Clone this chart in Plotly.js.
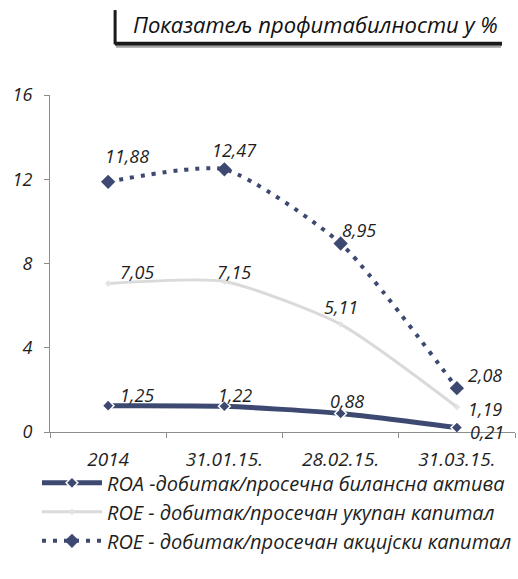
<!DOCTYPE html>
<html>
<head>
<meta charset="utf-8">
<script src="https://cdn.plot.ly/plotly-3.0.1.min.js"></script>
<style>html,body{margin:0;padding:0;background:#fff;}#chart{width:518px;height:579px;}</style>
</head>
<body>
<div id="chart"></div>
<script>
const categories = ["2014", "31.01.15.", "28.02.15.", "31.03.15."];
const roaValues = [1.25, 1.22, 0.88, 0.21];
const roeTotalValues = [7.05, 7.15, 5.11, 1.19];
const roeShareValues = [11.88, 12.47, 8.95, 2.08];
const roaName = "ROA -добитак/просечна билансна актива";
const roeTotalName = "ROE - добитак/просечан укупан капитал";
const roeShareName = "ROE - добитак/просечан акцијски капитал";
const titleText = "Показатељ профитабилности у %";
const yTicks = [0, 4, 8, 12, 16];

// label offsets in px (style, not data)
const roaShift = [[29, 11], [11, 11], [6, 12], [30, -4]];
const roeTotalShift = [[29, 12], [10, 9], [0, 17], [28, -2]];
const roeShareShift = [[19, 26], [10, 19], [18, 13], [28, 13]];

const fmt = v => v.toFixed(2).replace(".", ",");
const FONT = "Open Sans, Noto Sans, sans-serif";
const navy = "#3d4970";
const labelFont = {family: FONT, size: 18, color: "#1e1e1e", style: "italic"};

const traces = [
  {
    x: categories, y: roaValues, name: roaName, legendgroup: "a",
    mode: "lines+markers", type: "scatter",
    line: {color: navy, width: 5, shape: "spline", smoothing: 0.6},
    marker: {symbol: "diamond", size: 9, color: navy, line: {color: "#fff", width: 1.5}},
    cliponaxis: false
  },
  {
    x: categories, y: roeTotalValues, name: roeTotalName, legendgroup: "b",
    mode: "lines+markers", type: "scatter",
    line: {color: "#dadada", width: 3, shape: "spline", smoothing: 0.6},
    marker: {symbol: "diamond", size: 5, color: "#e2e2e2"},
    cliponaxis: false
  },
  {
    x: categories, y: roeShareValues, name: roeShareName, legendgroup: "c",
    mode: "lines+markers", type: "scatter",
    line: {color: navy, width: 4, dash: "4px,7px", shape: "spline", smoothing: 0.6},
    marker: {symbol: "diamond", size: 11, color: navy},
    cliponaxis: false
  }
];

const annotations = [];
function addLabels(values, shifts) {
  values.forEach((v, i) => {
    annotations.push({
      x: i, y: v, xref: "x", yref: "y", text: fmt(v), showarrow: false,
      xanchor: "center", yanchor: "middle", xshift: shifts[i][0], yshift: shifts[i][1],
      font: labelFont
    });
  });
}
addLabels(roaValues, roaShift);
addLabels(roeTotalValues, roeTotalShift);
addLabels(roeShareValues, roeShareShift);
annotations.push({
  text: titleText, xref: "paper", yref: "paper", x: 0.174, y: 1.212, xanchor: "left", yanchor: "middle",
  showarrow: false, font: {family: FONT, size: 22, color: "#111", style: "italic"}
});

const layout = {
  width: 518, height: 579,
  margin: {l: 50, r: 3, t: 95, b: 147},
  paper_bgcolor: "#fff", plot_bgcolor: "#fff",
  showlegend: true,
  font: {family: FONT, color: "#222"},
  xaxis: {
    type: "category", range: [-0.5, 3.5], fixedrange: true,
    showline: true, linecolor: "#8c8c8c", linewidth: 1,
    ticks: "outside", tickson: "boundaries", ticklen: 5, tickcolor: "#8c8c8c",
    ticklabelstandoff: 10,
    showgrid: false, zeroline: false,
    tickfont: {family: FONT, size: 19, color: "#1e1e1e", style: "italic"}
  },
  yaxis: {
    range: [0, 16], tickvals: yTicks, ticktext: yTicks.map(String),
    showline: true, linecolor: "#8c8c8c", linewidth: 1,
    ticks: "outside", ticklen: 5, tickcolor: "#8c8c8c",
    ticklabelstandoff: 8,
    showgrid: false, zeroline: false,
    tickfont: {family: FONT, size: 18, color: "#1e1e1e", style: "italic"}
  },
  legend: {
    x: -0.028, xanchor: "left", y: -0.093, yanchor: "top",
    orientation: "v", itemwidth: 60, tracegroupgap: 0,
    font: {family: FONT, size: 20, color: "#1e1e1e", style: "italic"},
    bgcolor: "rgba(0,0,0,0)"
  },
  shapes: [
    {type: "line", xref: "paper", yref: "paper", x0: 0.140, x1: 0.140, y0: 1.150, y1: 1.252,
     line: {color: "#1a1a1a", width: 3}},
    {type: "line", xref: "paper", yref: "paper", x0: 0.140, x1: 0.972, y0: 1.152, y1: 1.152,
     line: {color: "#1a1a1a", width: 4}},
    {type: "line", xref: "paper", yref: "paper", x0: 0.142, x1: 0.970, y0: 1.143, y1: 1.143,
     line: {color: "#a0a0a0", width: 2}}
  ],
  annotations: annotations
};

Plotly.newPlot("chart", traces, layout, {displayModeBar: false, staticPlot: true});
</script>
</body>
</html>
